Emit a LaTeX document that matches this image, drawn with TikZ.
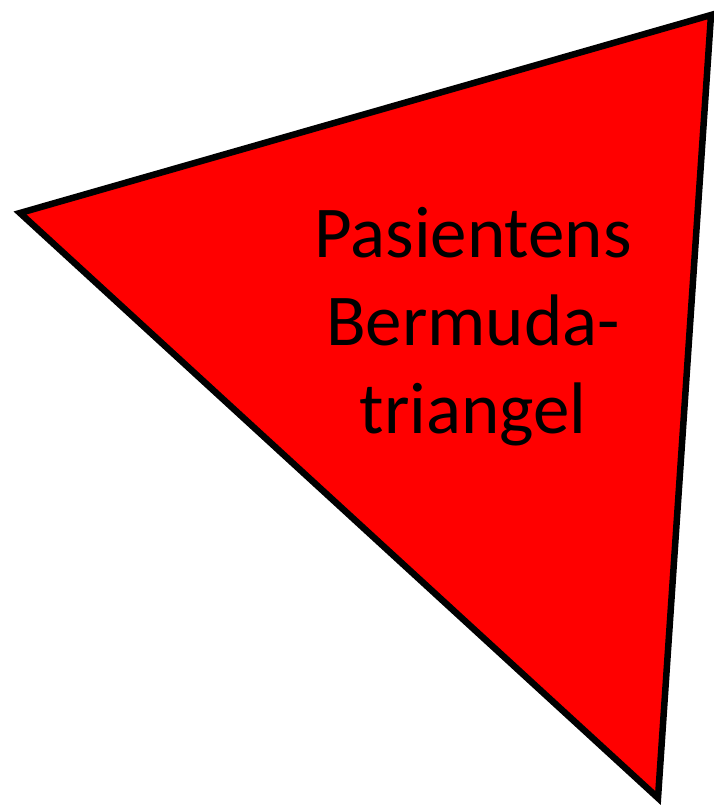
\documentclass[tikz,border=0pt]{standalone}
\usepackage{fontspec}
\setmainfont{Carlito}
\usetikzlibrary{positioning}
\definecolor{bermudared}{HTML}{FF0000}
\tikzset{
  tri/.style={draw=black, fill=bermudared, line width=6.5pt, line join=miter},
  label/.style={font=\fontsize{73}{88}\selectfont, align=center, text=black, inner sep=0pt},
}
\begin{document}
\begin{tikzpicture}[x=1pt, y=-1pt]
    \useasboundingbox (0,0) rectangle (714,809);
    \coordinate (left) at (20,213);
    \coordinate (top) at (711,15);
    \coordinate (bottom) at (658,798);
    \draw[tri] (left) -- (top) -- (bottom) -- cycle;
    \node[label, anchor=base] (title) at (473,433) {Pasientens\\Bermuda-\\triangel};
  \end{tikzpicture}
\end{document}
